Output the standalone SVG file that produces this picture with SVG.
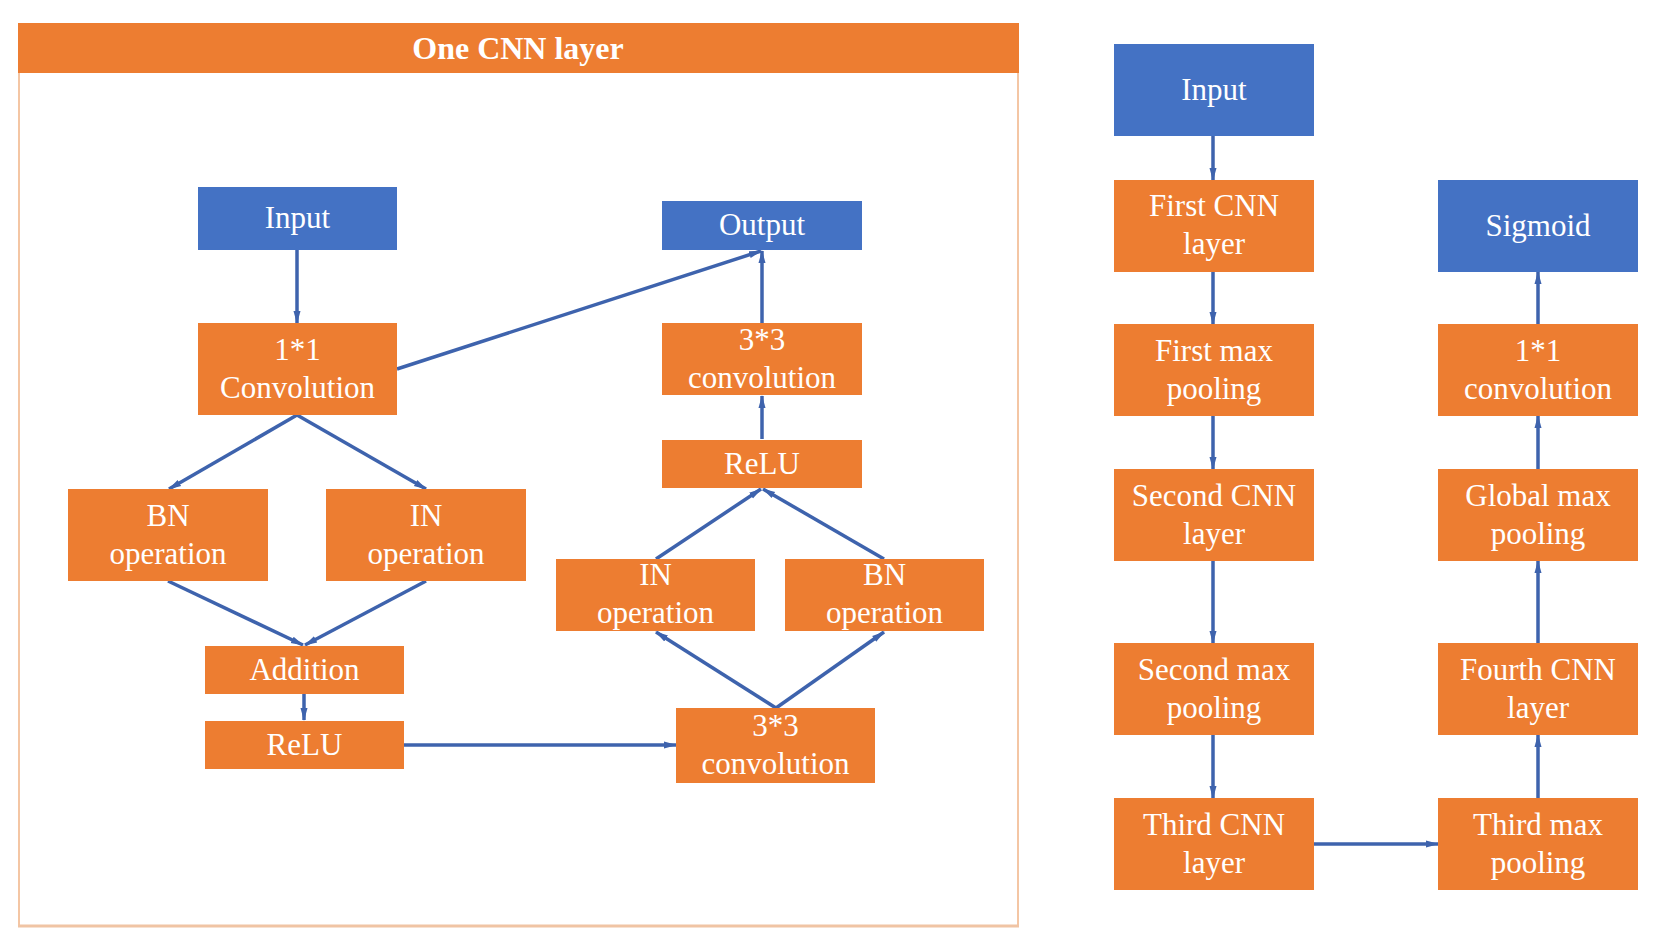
<svg xmlns="http://www.w3.org/2000/svg" width="1666" height="952" viewBox="0 0 1666 952">
<defs>
<style>
.o{fill:#ED7D31}
.b{fill:#4472C4}
.t{font-family:"Liberation Serif","Times New Roman",serif;font-size:31px;fill:#FFFFFF;text-anchor:middle}
.c{stroke:#3E63AD;stroke-width:3.5;fill:none;marker-end:url(#ah)}
</style>
<marker id="ah" markerUnits="userSpaceOnUse" markerWidth="14" markerHeight="10" refX="12" refY="5" orient="auto">
<path d="M0,1.5 L13,5 L0,8.5 Z" fill="#3E63AD"/>
</marker>
</defs>
<rect width="1666" height="952" fill="#FFFFFF"/>
<g id="frame">
<rect x="19" y="24" width="999" height="902" fill="#FFFFFF" stroke="#F4C6A4" stroke-width="2"/>
<line x1="18" y1="926" x2="1019" y2="926" stroke="#F0C4A4" stroke-width="3"/>
<rect x="18" y="23" width="1001" height="50" fill="#ED7D31"/>
<text x="518" y="59" font-family="'Liberation Serif','Times New Roman',serif" font-size="32" font-weight="bold" fill="#FFFFFF" text-anchor="middle">One CNN layer</text>
</g>
<g id="connectors">
<line class="c" x1="297" y1="250" x2="297" y2="323"/>
<line class="c" x1="397" y1="369" x2="761" y2="251"/>
<line class="c" x1="762" y1="323" x2="762" y2="251"/>
<line class="c" x1="762" y1="439" x2="762" y2="396"/>
<line class="c" x1="297" y1="415" x2="169" y2="489"/>
<line class="c" x1="297" y1="415" x2="426" y2="489"/>
<line class="c" x1="168" y1="581" x2="303" y2="645"/>
<line class="c" x1="426" y1="581" x2="305" y2="645"/>
<line class="c" x1="304" y1="694" x2="304" y2="720"/>
<line class="c" x1="404" y1="745" x2="676" y2="745"/>
<line class="c" x1="776" y1="708" x2="656" y2="632"/>
<line class="c" x1="776" y1="708" x2="884" y2="632"/>
<line class="c" x1="656" y1="559" x2="761" y2="489"/>
<line class="c" x1="884" y1="559" x2="763" y2="489"/>
<line class="c" x1="1213" y1="128" x2="1213" y2="180"/>
<line class="c" x1="1213" y1="272" x2="1213" y2="324"/>
<line class="c" x1="1213" y1="416" x2="1213" y2="469"/>
<line class="c" x1="1213" y1="561" x2="1213" y2="643"/>
<line class="c" x1="1213" y1="735" x2="1213" y2="798"/>
<line class="c" x1="1313" y1="844" x2="1438" y2="844"/>
<line class="c" x1="1538" y1="798" x2="1538" y2="735"/>
<line class="c" x1="1538" y1="643" x2="1538" y2="561"/>
<line class="c" x1="1538" y1="469" x2="1538" y2="416"/>
<line class="c" x1="1538" y1="324" x2="1538" y2="272"/>
</g>
<g id="in_left"><rect class="b" x="198" y="187" width="199" height="63"/><text class="t" x="297.5" y="228">Input</text></g>
<g id="output"><rect class="b" x="662" y="201" width="200" height="49"/><text class="t" x="762" y="235">Output</text></g>
<g id="conv1x1"><rect class="o" x="198" y="323" width="199" height="92"/><text class="t" x="297.5" y="360">1*1</text><text class="t" x="297.5" y="398">Convolution</text></g>
<g id="conv3x3_top"><rect class="o" x="662" y="323" width="200" height="72"/><text class="t" x="762" y="350">3*3</text><text class="t" x="762" y="388">convolution</text></g>
<g id="relu_right"><rect class="o" x="662" y="440" width="200" height="48"/><text class="t" x="762" y="474">ReLU</text></g>
<g id="bn_left"><rect class="o" x="68" y="489" width="200" height="92"/><text class="t" x="168" y="526">BN</text><text class="t" x="168" y="564">operation</text></g>
<g id="in_op_left"><rect class="o" x="326" y="489" width="200" height="92"/><text class="t" x="426" y="526">IN</text><text class="t" x="426" y="564">operation</text></g>
<g id="in_op_right"><rect class="o" x="556" y="559" width="199" height="72"/><text class="t" x="655.5" y="585">IN</text><text class="t" x="655.5" y="623">operation</text></g>
<g id="bn_right"><rect class="o" x="785" y="559" width="199" height="72"/><text class="t" x="884.5" y="585">BN</text><text class="t" x="884.5" y="623">operation</text></g>
<g id="addition"><rect class="o" x="205" y="646" width="199" height="48"/><text class="t" x="304.5" y="680">Addition</text></g>
<g id="relu_left"><rect class="o" x="205" y="721" width="199" height="48"/><text class="t" x="304.5" y="755">ReLU</text></g>
<g id="conv3x3_bottom"><rect class="o" x="676" y="708" width="199" height="75"/><text class="t" x="775.5" y="736">3*3</text><text class="t" x="775.5" y="774">convolution</text></g>
<g id="in_right"><rect class="b" x="1114" y="44" width="200" height="92"/><text class="t" x="1214" y="100">Input</text></g>
<g id="cnn1"><rect class="o" x="1114" y="180" width="200" height="92"/><text class="t" x="1214" y="216">First CNN</text><text class="t" x="1214" y="254">layer</text></g>
<g id="pool1"><rect class="o" x="1114" y="324" width="200" height="92"/><text class="t" x="1214" y="361">First max</text><text class="t" x="1214" y="399">pooling</text></g>
<g id="cnn2"><rect class="o" x="1114" y="469" width="200" height="92"/><text class="t" x="1214" y="506">Second CNN</text><text class="t" x="1214" y="544">layer</text></g>
<g id="pool2"><rect class="o" x="1114" y="643" width="200" height="92"/><text class="t" x="1214" y="680">Second max</text><text class="t" x="1214" y="718">pooling</text></g>
<g id="cnn3"><rect class="o" x="1114" y="798" width="200" height="92"/><text class="t" x="1214" y="835">Third CNN</text><text class="t" x="1214" y="873">layer</text></g>
<g id="sigmoid"><rect class="b" x="1438" y="180" width="200" height="92"/><text class="t" x="1538" y="236">Sigmoid</text></g>
<g id="conv1x1_right"><rect class="o" x="1438" y="324" width="200" height="92"/><text class="t" x="1538" y="361">1*1</text><text class="t" x="1538" y="399">convolution</text></g>
<g id="gpool"><rect class="o" x="1438" y="469" width="200" height="92"/><text class="t" x="1538" y="506">Global max</text><text class="t" x="1538" y="544">pooling</text></g>
<g id="cnn4"><rect class="o" x="1438" y="643" width="200" height="92"/><text class="t" x="1538" y="680">Fourth CNN</text><text class="t" x="1538" y="718">layer</text></g>
<g id="pool3"><rect class="o" x="1438" y="798" width="200" height="92"/><text class="t" x="1538" y="835">Third max</text><text class="t" x="1538" y="873">pooling</text></g>
</svg>
